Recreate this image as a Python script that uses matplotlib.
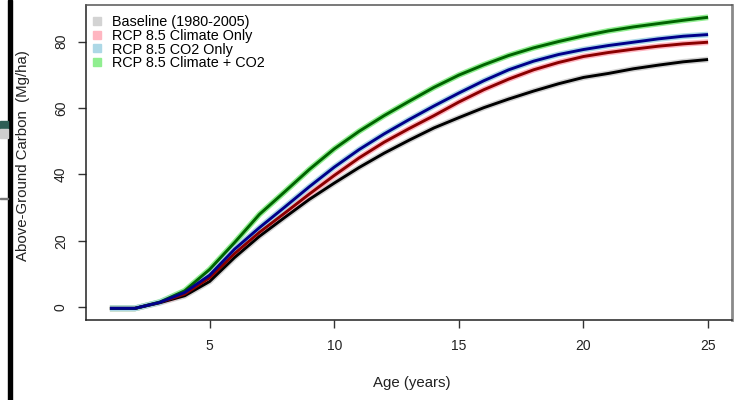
import matplotlib
matplotlib.use("Agg")
import matplotlib.pyplot as plt
from matplotlib.patches import Rectangle
from matplotlib.lines import Line2D

plt.rcParams["font.family"] = ["Liberation Sans", "DejaVu Sans"]

# stand age (years)
age = list(range(1, 26))

# above-ground carbon (Mg/ha)
baseline = [-0.3, -0.3, 1.4, 3.5, 7.8, 15.0, 21.4, 27.0, 32.5, 37.4, 42.1,
            46.4, 50.3, 54.0, 57.1, 60.1, 62.7, 65.1, 67.3, 69.2, 70.4,
            71.8, 72.9, 73.9, 74.6]
climate_only = [-0.3, -0.3, 1.5, 4.0, 8.9, 16.2, 22.6, 28.3, 34.1, 39.7, 45.0,
                49.7, 53.8, 57.7, 61.8, 65.5, 68.7, 71.5, 73.7, 75.5, 76.7,
                77.7, 78.6, 79.3, 79.8]
co2_only = [-0.3, -0.3, 1.5, 4.5, 9.7, 17.5, 24.0, 30.1, 36.3, 42.2, 47.5,
            52.2, 56.5, 60.6, 64.5, 68.2, 71.5, 74.1, 76.1, 77.6, 78.8,
            79.8, 80.8, 81.6, 82.1]
climate_co2 = [-0.3, -0.3, 1.6, 5.0, 11.4, 19.5, 28.0, 34.7, 41.5, 47.7, 53.0,
               57.7, 62.0, 66.2, 69.9, 73.0, 75.8, 78.1, 80.0, 81.7, 83.2,
               84.4, 85.4, 86.4, 87.3]

labels = ["Baseline (1980-2005)", "RCP 8.5 Climate Only",
          "RCP 8.5 CO2 Only", "RCP 8.5 Climate + CO2"]
line_colors = ["black", "#8B0000", "#00008B", "#006400"]
band_colors = ["#D3D3D3", "#FFB6C1", "#ADD8E6", "#90EE90"]
series = [baseline, climate_only, co2_only, climate_co2]

fig = plt.figure(figsize=(7.42, 4.0), dpi=100)
ax = fig.add_axes([86 / 742, 1 - 320 / 400, (732 - 86) / 742, (320 - 5) / 400])

# draw order: green below blue, as in the reference
for i in [0, 1, 3, 2]:
    ax.plot(age, series[i], color=band_colors[i], linewidth=4.2,
            solid_capstyle="butt", zorder=2)
    ax.plot(age, series[i], color=line_colors[i], linewidth=2.1,
            solid_capstyle="butt", zorder=3)

ax.set_xlim(0.04, 25.96)
ax.set_ylim(-3.8, 91.0)
ax.set_xticks([5, 10, 15, 20, 25])
ax.set_yticks([0, 20, 40, 60, 80])

ax.tick_params(axis="both", direction="out", length=6, width=1.0,
               color="#333333", labelsize=10, labelcolor="#222222")
ax.tick_params(axis="x", pad=8)
ax.tick_params(axis="y", pad=7)
for lbl in ax.get_yticklabels():
    lbl.set_rotation(90)
    lbl.set_va("center")

ax.spines["left"].set_color("#222222")
ax.spines["bottom"].set_color("#222222")
ax.spines["top"].set_color("#555555")
ax.spines["right"].set_color("#8a8a8a")
ax.spines["right"].set_linewidth(2.0)
for s in ["left", "bottom", "top"]:
    ax.spines[s].set_linewidth(1.1)

fig.text(412 / 742, 1 - 383 / 400, "Age (years)", ha="center", va="center",
         fontsize=10.8, color="#222222")
fig.text(23 / 742, 1 - 156 / 400, "Above-Ground Carbon  (Mg/ha)", rotation=90,
         ha="center", va="center", fontsize=10.8, color="#222222")

handles = [Line2D([], [], linestyle="none", marker="s", markersize=5.5,
                  markerfacecolor=c, markeredgecolor=c) for c in band_colors]
ax.legend(handles, labels, loc="upper left", bbox_to_anchor=(-0.004, 0.99),
          frameon=False, fontsize=10.4, handlelength=0.9, handletextpad=0.55,
          labelspacing=-0.03, borderaxespad=0.3, borderpad=0.2)

# screenshot edge leftovers on the left border
fig.patches.append(Rectangle((8 / 742, 0), 4 / 742, 1, transform=fig.transFigure,
                             color="black", zorder=5))
fig.patches.append(Rectangle((0, 1 - 129 / 400), 8 / 742, 8 / 400,
                             transform=fig.transFigure, color="#2E5E55", zorder=5))
fig.patches.append(Rectangle((0, 1 - 138 / 400), 8 / 742, 9 / 400,
                             transform=fig.transFigure, color="#cfcfcf", zorder=5))
fig.patches.append(Rectangle((0, 1 - 198.5 / 400), 8 / 742, 1 / 400,
                             transform=fig.transFigure, color="#777777", zorder=5))

fig.savefig("out.png", dpi=100)
plt.close("all")
